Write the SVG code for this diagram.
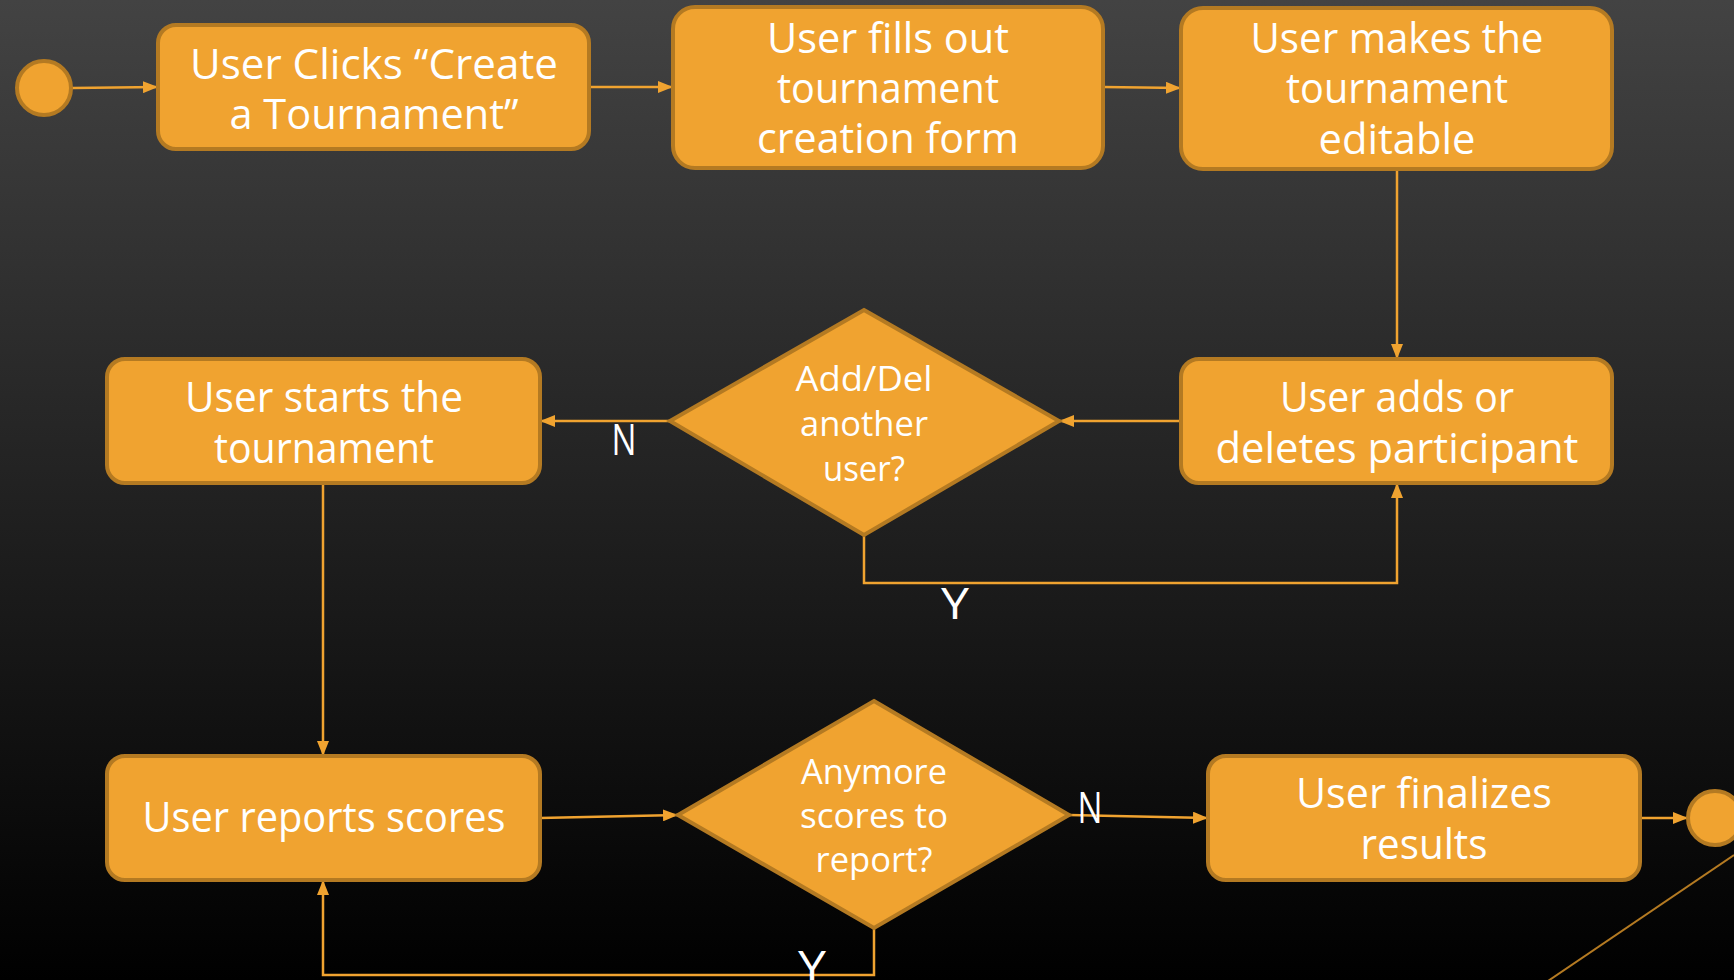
<svg xmlns="http://www.w3.org/2000/svg" width="1734" height="980" viewBox="0 0 1734 980">
<defs>
<linearGradient id="bg" x1="0" y1="0" x2="0" y2="1">
<stop offset="0" stop-color="#434343"/>
<stop offset="1" stop-color="#000000"/>
</linearGradient>
<marker id="arr" markerUnits="userSpaceOnUse" markerWidth="16" markerHeight="12" refX="15" refY="6" orient="auto">
<path d="M0,0 L15,6 L0,12 Z" fill="#F0A330"/>
</marker>
<style>
.n{fill:#F0A330;stroke:#B47A22;stroke-width:4}
.c{fill:none;stroke:#F0A330;stroke-width:2.5;marker-end:url(#arr)}
.t{font-family:"Open Sans","Liberation Sans",sans-serif;font-size:42px;fill:#FFFFFF;text-anchor:middle}
.d{font-family:"Open Sans","Liberation Sans",sans-serif;font-size:34px;fill:#FFFFFF;text-anchor:middle}
.l{font-family:"Open Sans","Liberation Sans",sans-serif;font-size:44px;fill:#FFFFFF;text-anchor:middle}
</style>
</defs>
<rect width="1734" height="980" fill="url(#bg)"/>
<g id="connectors">
<path class="c" d="M72,88 L158,87"/>
<path class="c" d="M589,87 L673,87"/>
<path class="c" d="M1103,87 L1181,88"/>
<path class="c" d="M1397,169 L1397,359"/>
<path class="c" d="M1181,421 L1059,421"/>
<path class="c" d="M670,421 L540,421"/>
<path class="c" d="M864,535 L864,583 L1397,583 L1397,483"/>
<path class="c" d="M323,483 L323,756"/>
<path class="c" d="M540,818 L678,815"/>
<path class="c" d="M1069,815 L1208,818"/>
<path class="c" d="M874,927 L874,975 L323,975 L323,880"/>
<path class="c" d="M1640,818 L1688,818"/>
<text class="l" x="624" y="455" textLength="25" lengthAdjust="spacingAndGlyphs">N</text>
<text class="l" x="955" y="619" textLength="28" lengthAdjust="spacingAndGlyphs">Y</text>
<text class="l" x="1090" y="823" textLength="25" lengthAdjust="spacingAndGlyphs">N</text>
<text class="l" x="812" y="982" textLength="28" lengthAdjust="spacingAndGlyphs">Y</text>
</g>
<g id="stray-line">
<line x1="1548" y1="981" x2="1734" y2="855" stroke="#B47A22" stroke-width="2"/>
</g>
<g id="start"><circle class="n" cx="44" cy="88" r="27"/></g>
<g id="create">
<rect class="n" x="158" y="25" width="431" height="124" rx="18"/>
<text class="t" x="374" y="79" textLength="368" lengthAdjust="spacingAndGlyphs">User Clicks “Create</text>
<text class="t" x="374" y="129" textLength="289" lengthAdjust="spacingAndGlyphs">a Tournament”</text>
</g>
<g id="fill-form">
<rect class="n" x="673" y="7" width="430" height="161" rx="22"/>
<text class="t" x="888" y="53" textLength="242" lengthAdjust="spacingAndGlyphs">User fills out</text>
<text class="t" x="888" y="103" textLength="222" lengthAdjust="spacingAndGlyphs">tournament</text>
<text class="t" x="888" y="153" textLength="262" lengthAdjust="spacingAndGlyphs">creation form</text>
</g>
<g id="editable">
<rect class="n" x="1181" y="8" width="431" height="161" rx="22"/>
<text class="t" x="1397" y="53" textLength="293" lengthAdjust="spacingAndGlyphs">User makes the</text>
<text class="t" x="1397" y="103" textLength="222" lengthAdjust="spacingAndGlyphs">tournament</text>
<text class="t" x="1397" y="154" textLength="157" lengthAdjust="spacingAndGlyphs">editable</text>
</g>
<g id="adds">
<rect class="n" x="1181" y="359" width="431" height="124" rx="18"/>
<text class="t" x="1397" y="412" textLength="234" lengthAdjust="spacingAndGlyphs">User adds or</text>
<text class="t" x="1397" y="463" textLength="363" lengthAdjust="spacingAndGlyphs">deletes participant</text>
</g>
<g id="decision-1">
<polygon class="n" points="864,310 1059,421 864,535 670,421"/>
<text class="d" x="864" y="391" textLength="137" lengthAdjust="spacingAndGlyphs">Add/Del</text>
<text class="d" x="864" y="436" textLength="128" lengthAdjust="spacingAndGlyphs">another</text>
<text class="d" x="864" y="481" textLength="82" lengthAdjust="spacingAndGlyphs">user?</text>
</g>
<g id="starts">
<rect class="n" x="107" y="359" width="433" height="124" rx="18"/>
<text class="t" x="324" y="412" textLength="278" lengthAdjust="spacingAndGlyphs">User starts the</text>
<text class="t" x="324" y="463" textLength="220" lengthAdjust="spacingAndGlyphs">tournament</text>
</g>
<g id="reports">
<rect class="n" x="107" y="756" width="433" height="124" rx="18"/>
<text class="t" x="324" y="832" textLength="363" lengthAdjust="spacingAndGlyphs">User reports scores</text>
</g>
<g id="decision-2">
<polygon class="n" points="874,701 1069,815 874,928 678,815"/>
<text class="d" x="874" y="784" textLength="146" lengthAdjust="spacingAndGlyphs">Anymore</text>
<text class="d" x="874" y="828" textLength="148" lengthAdjust="spacingAndGlyphs">scores to</text>
<text class="d" x="874" y="872" textLength="117" lengthAdjust="spacingAndGlyphs">report?</text>
</g>
<g id="finalize">
<rect class="n" x="1208" y="756" width="432" height="124" rx="18"/>
<text class="t" x="1424" y="808" textLength="256" lengthAdjust="spacingAndGlyphs">User finalizes</text>
<text class="t" x="1424" y="859" textLength="127" lengthAdjust="spacingAndGlyphs">results</text>
</g>
<g id="end"><circle class="n" cx="1715" cy="818" r="27"/></g>
</svg>
